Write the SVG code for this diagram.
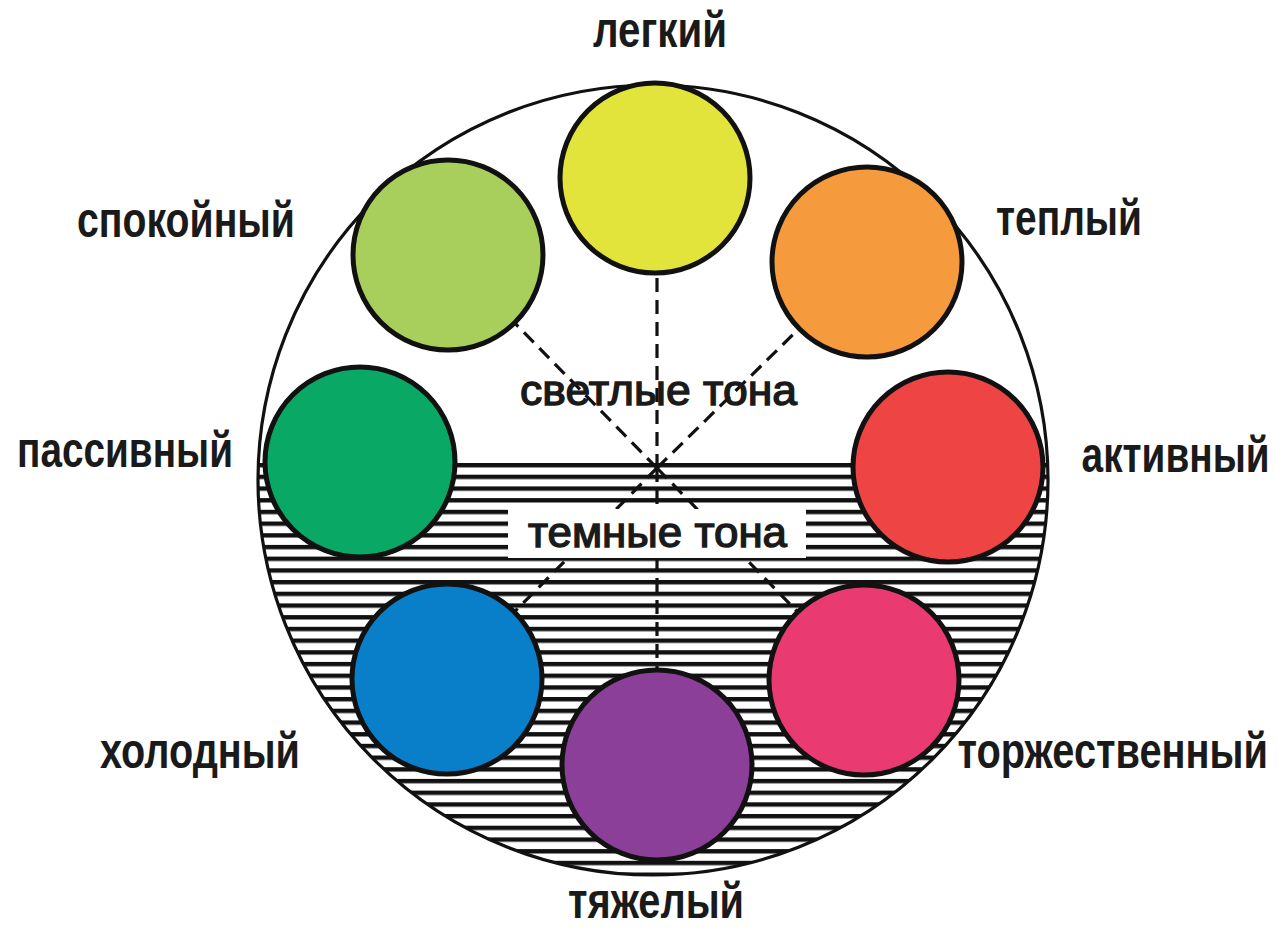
<svg xmlns="http://www.w3.org/2000/svg" width="1286" height="930" viewBox="0 0 1286 930">
<defs>
<style>
.lbl{font-family:"Liberation Sans","Arial",sans-serif;font-weight:bold;font-size:50px;fill:#1a1a1a}
.mid{font-family:"Liberation Sans","Arial",sans-serif;font-size:43px;fill:#1a1a1a;stroke:#1a1a1a;stroke-width:1.4}
.dot{stroke:#111;stroke-width:5}
.dash{stroke:#111;stroke-width:3.2;stroke-dasharray:14 8;fill:none}
</style>
<pattern id="hatch" x="0" y="463" width="20" height="11.7" patternUnits="userSpaceOnUse">
<rect x="0" y="0" width="20" height="4.4" fill="#111"/>
</pattern>
</defs>
<rect width="1286" height="930" fill="#fff"/>
<g id="wheel">
<circle cx="653" cy="480" r="395" fill="#fff"/>
<path d="M258.4,463 A395,395 0 1 0 1047.6,463 Z" fill="url(#hatch)"/>
<circle cx="653" cy="480" r="395" fill="none" stroke="#111" stroke-width="3.2"/>
</g>
<g id="connectors">
<line class="dash" x1="657" y1="468" x2="657" y2="275"/>
<line class="dash" x1="657" y1="468" x2="448" y2="255"/>
<line class="dash" x1="657" y1="468" x2="867" y2="262"/>
<line class="dash" x1="657" y1="468" x2="447" y2="680"/>
<line class="dash" x1="657" y1="468" x2="657" y2="765"/>
<line class="dash" x1="657" y1="468" x2="864" y2="680"/>
</g>
<g id="dark-label">
<rect x="508" y="509" width="298" height="49" fill="#fff"/>
<text class="mid" x="528" y="547" textLength="259" lengthAdjust="spacingAndGlyphs">темные тона</text>
</g>
<g id="light-label">
<text class="mid" x="520" y="405" textLength="277" lengthAdjust="spacingAndGlyphs">светлые тона</text>
</g>
<g id="node-light">
<circle class="dot" cx="655" cy="178" r="95" fill="#E2E33B"/>
<text class="lbl" x="593" y="47" textLength="134" lengthAdjust="spacingAndGlyphs">легкий</text>
</g>
<g id="node-calm">
<circle class="dot" cx="448" cy="255" r="95" fill="#A8CF5C"/>
<text class="lbl" x="77" y="237" textLength="218" lengthAdjust="spacingAndGlyphs">спокойный</text>
</g>
<g id="node-warm">
<circle class="dot" cx="867" cy="262" r="95" fill="#F59B3D"/>
<text class="lbl" x="996" y="235" textLength="146" lengthAdjust="spacingAndGlyphs">теплый</text>
</g>
<g id="node-passive">
<circle class="dot" cx="360" cy="462" r="95" fill="#0AA865"/>
<text class="lbl" x="17" y="467" textLength="216" lengthAdjust="spacingAndGlyphs">пассивный</text>
</g>
<g id="node-active">
<circle class="dot" cx="948" cy="467" r="95" fill="#EE4444"/>
<text class="lbl" transform="scale(0.8,1)" x="1352" y="472" textLength="235" lengthAdjust="spacingAndGlyphs">активный</text>
</g>
<g id="node-cold">
<circle class="dot" cx="447" cy="679" r="95" fill="#0A7FC9"/>
<text class="lbl" x="100" y="768" textLength="200" lengthAdjust="spacingAndGlyphs">холодный</text>
</g>
<g id="node-festive">
<circle class="dot" cx="864" cy="680" r="95" fill="#E93A72"/>
<text class="lbl" transform="scale(0.8,1)" x="1197" y="768" textLength="388" lengthAdjust="spacingAndGlyphs">торжественный</text>
</g>
<g id="node-heavy">
<circle class="dot" cx="657" cy="765" r="95" fill="#8B3F99"/>
<text class="lbl" x="568" y="918" textLength="176" lengthAdjust="spacingAndGlyphs">тяжелый</text>
</g>
</svg>
